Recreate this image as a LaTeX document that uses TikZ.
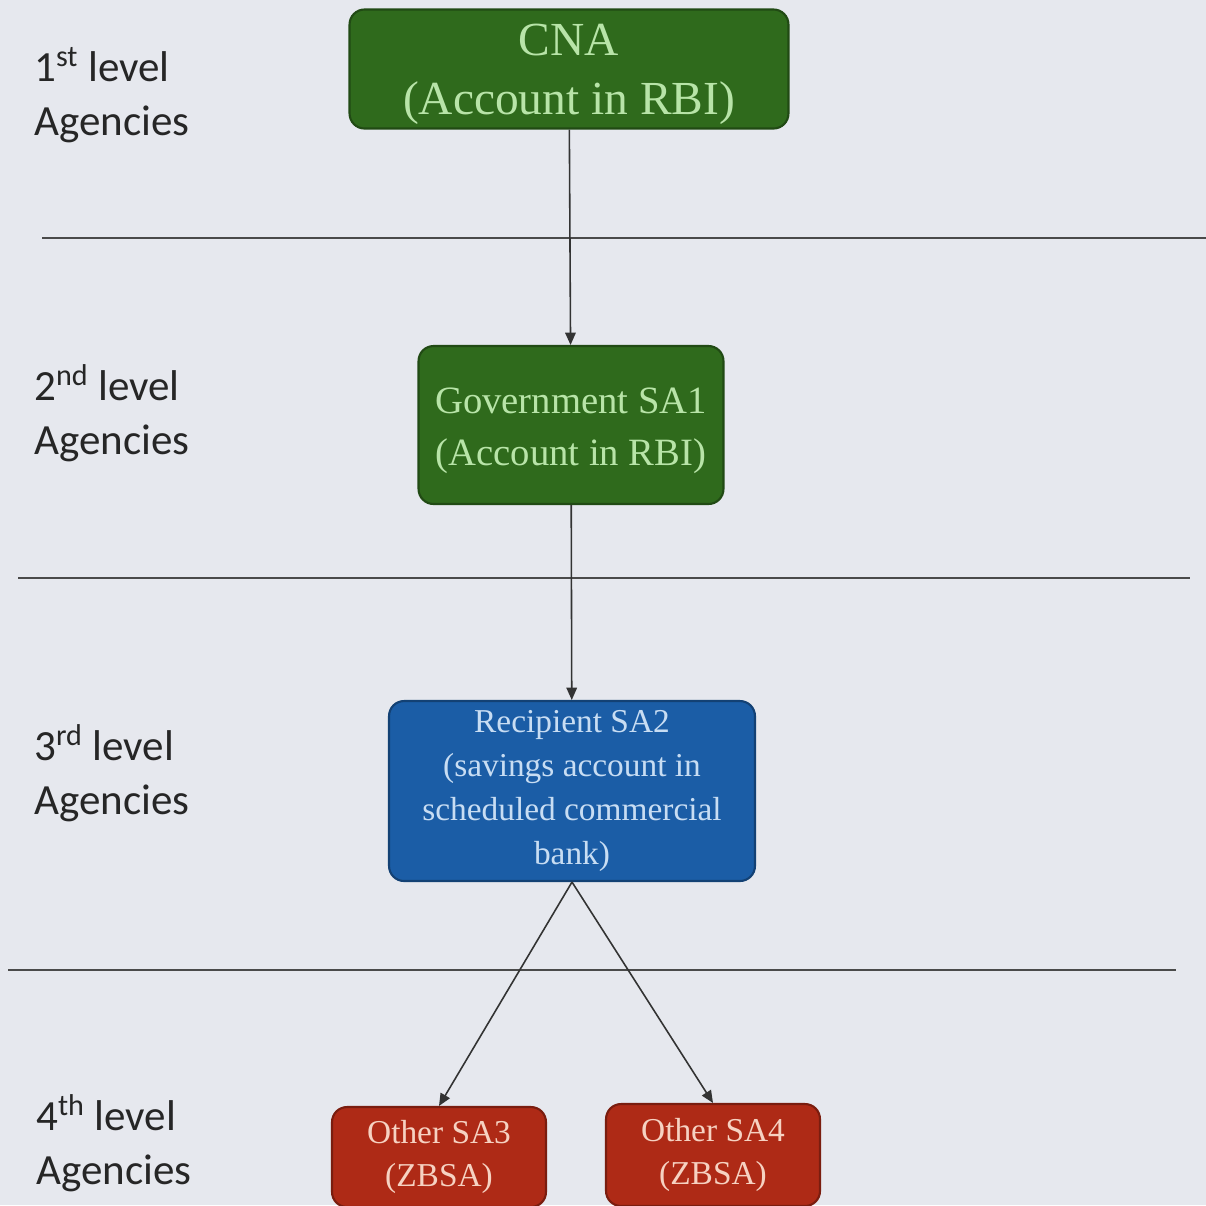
\documentclass[tikz,border=0pt]{standalone}
\usepackage{fontspec}
\setmainfont{Liberation Serif}
\newfontfamily\lblfont{Carlito}
\usetikzlibrary{arrows.meta}
\definecolor{bgcol}{HTML}{E6E8EE}
\definecolor{rulecol}{HTML}{4A4A4A}
\definecolor{cnagreen}{HTML}{2F6A1C}
\definecolor{cnatext}{HTML}{B8E4A8}
\definecolor{sablue}{HTML}{1B5DA6}
\definecolor{sabluetext}{HTML}{C8DDF3}
\definecolor{sared}{HTML}{AE2A16}
\definecolor{saredtext}{HTML}{F6D2C2}
\tikzset{
  acct/.style={draw=#1!70!black, fill=#1, line width=1.2pt, rounded corners=0.3cm, align=center, inner sep=2pt},
  level/.style={anchor=west, align=left, font=\lblfont\fontsize{24.5}{30.5}\selectfont, text=black!85},
  flow/.style={-{Triangle[length=7pt,width=6pt]}, black!80, line width=0.9pt},
}
\begin{document}
\begin{tikzpicture}[x=0.02cm,y=-0.02cm]
  \fill[bgcol] (0,0) rectangle (1206,1205);
  \clip (0,0) rectangle (1206,1205);
  % level rules
  \draw[rulecol, line width=1pt] (42,238) -- (1206,238);
  \draw[rulecol, line width=1pt] (18,578) -- (1190,578);
  \draw[rulecol, line width=1pt] (8,970) -- (1176,970);
  % level labels
  \node[level] (lvl1) at (28,95) {1\textsuperscript{st} level\\Agencies};
  \node[level] (lvl2) at (28,413) {2\textsuperscript{nd} level\\Agencies};
  \node[level] (lvl3) at (28,773) {3\textsuperscript{rd} level\\Agencies};
  \node[level] (lvl4) at (30,1143) {4\textsuperscript{th} level\\Agencies};
  % accounts
  \node[acct=cnagreen, text=cnatext, minimum width=8.78cm, minimum height=2.36cm,
        font=\fontsize{27}{34}\selectfont] (cna) at (569,69) {\rule{0pt}{24pt}CNA\\(Account in RBI)};
  \node[acct=cnagreen, text=cnatext, minimum width=6.1cm, minimum height=3.16cm,
        font=\fontsize{22}{29.5}\selectfont] (sa1) at (571,425) {\rule{0pt}{21pt}Government SA1\\(Account in RBI)};
  \node[acct=sablue, text=sabluetext, minimum width=7.32cm, minimum height=3.6cm,
        font=\fontsize{19}{25}\selectfont] (sa2) at (572,791) {Recipient SA2\\(savings account in\\scheduled commercial\\bank)};
  \node[acct=sared, text=saredtext, minimum width=4.28cm, minimum height=2cm,
        font=\fontsize{19}{24.4}\selectfont] (sa3) at (439,1157) {Other SA3\\(ZBSA)};
  \node[acct=sared, text=saredtext, minimum width=4.28cm, minimum height=2.04cm,
        font=\fontsize{19}{24.4}\selectfont] (sa4) at (713,1155) {Other SA4\\(ZBSA)};
  % flows
  \draw[flow] (cna) -- (sa1);
  \draw[flow] (sa1) -- (sa2);
  \draw[flow] (sa2.south) -- (sa3.north);
  \draw[flow] (sa2.south) -- (sa4.north);
\end{tikzpicture}
\end{document}
